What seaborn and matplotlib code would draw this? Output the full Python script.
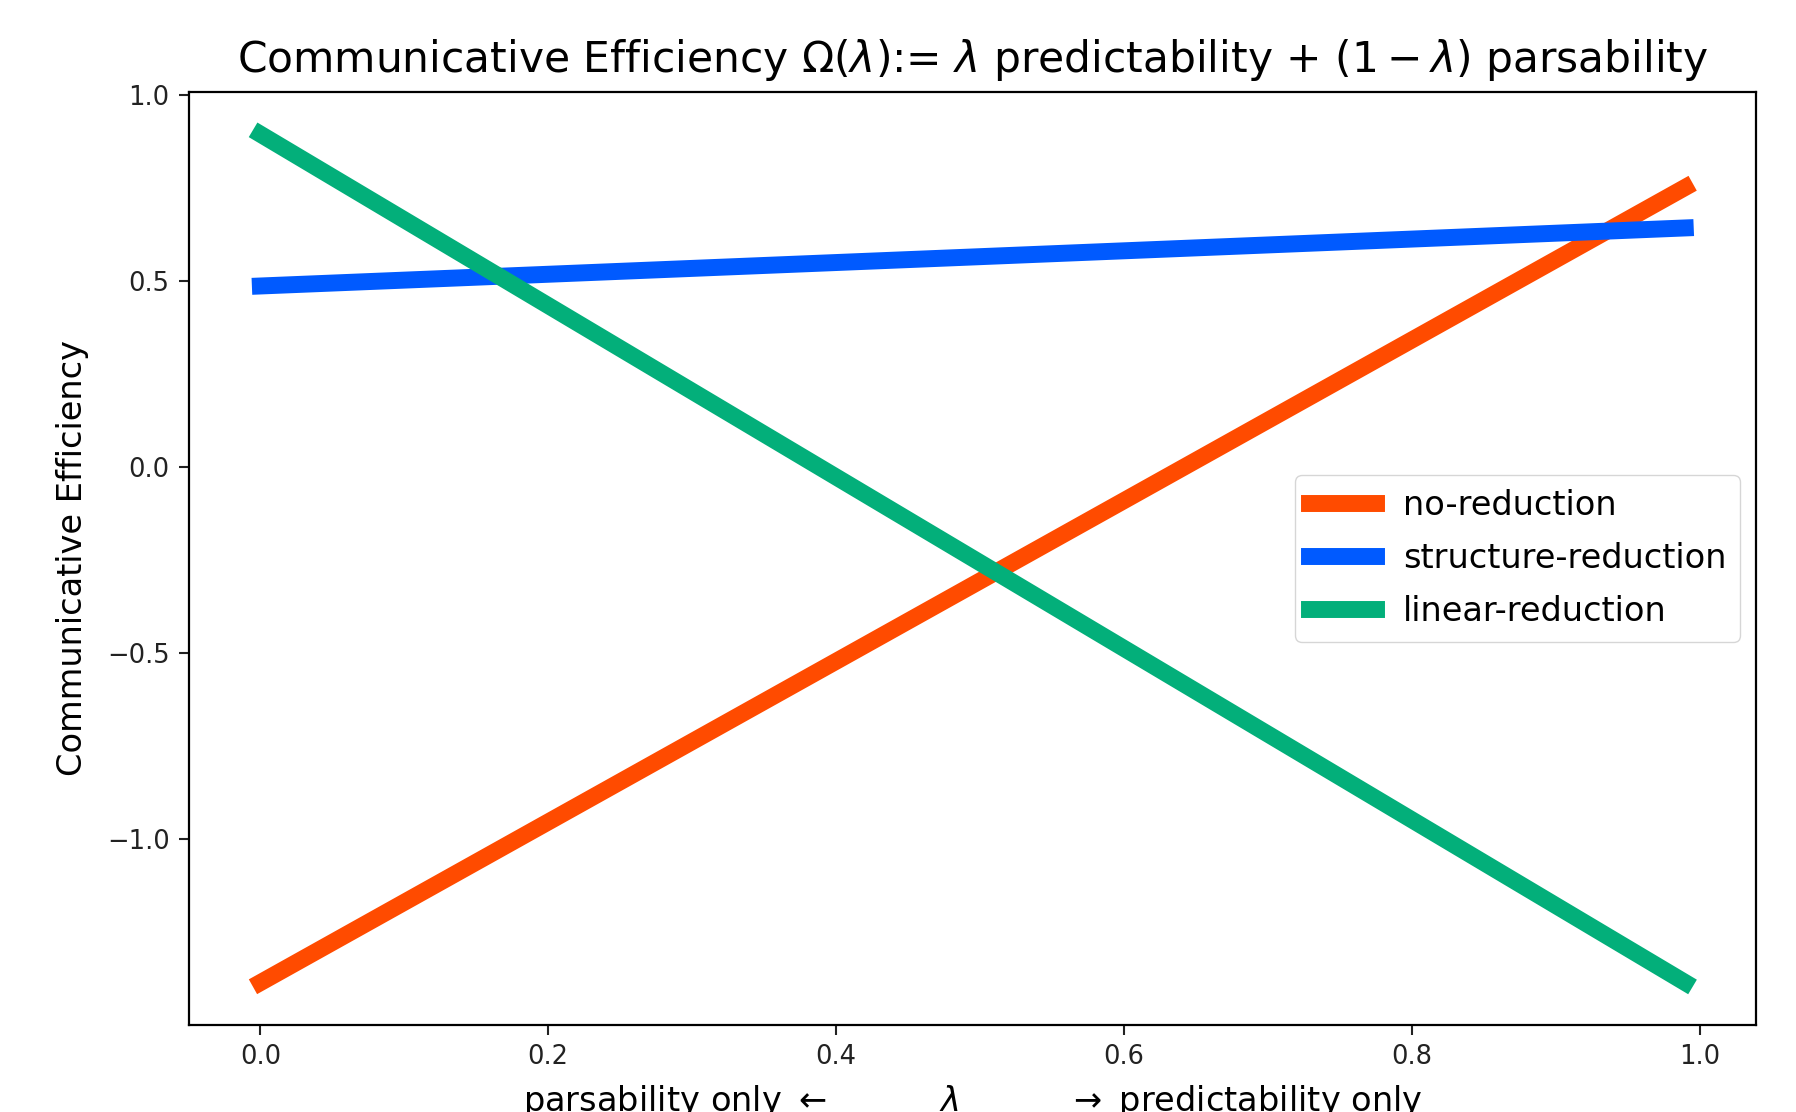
import matplotlib
matplotlib.use("Agg")
import matplotlib.pyplot as plt
import seaborn as sns
import pandas as pd

# data: endpoints of each line (lambda from 0 to 0.99)
lambdas = [0.0, 0.99]
series_names = ["no-reduction", "structure-reduction", "linear-reduction"]
no_reduction = [-1.385, 0.752]
structure_reduction = [0.487, 0.643]
linear_reduction = [0.895, -1.385]
colors = ["#FF4B00", "#005AFF", "#03AF7A"]

rows = []
for name, vals in zip(series_names, [no_reduction, structure_reduction, linear_reduction]):
    for l, v in zip(lambdas, vals):
        rows.append({"lambda": l, "value": v, "series": name})
df = pd.DataFrame(rows)

fig = plt.figure(figsize=(17.96, 11.12), dpi=100)
ax = fig.add_axes([0.1053, 0.0782, 0.978 - 0.1053, 0.9175 - 0.0782])

sns.lineplot(data=df, x="lambda", y="value", hue="series", hue_order=series_names,
             palette=colors, linewidth=12.2, ax=ax, legend=True)

ax.set_title(r"Communicative Efficiency $\Omega(\lambda)$:= $\lambda$ predictability + $(1-\lambda)$ parsability",
             fontsize=30.5, pad=14)
ax.set_ylabel("Communicative Efficiency", fontsize=24.2, labelpad=13)
ax.set_xlabel(r"parsability only $\leftarrow$          $\lambda$          $\rightarrow$ predictability only",
              fontsize=24.2, labelpad=9)
ax.tick_params(labelsize=18.5, length=7, width=1.5, pad=7, color="#222222", labelcolor="#222222")
for s in ax.spines.values():
    s.set_linewidth(1.6)

handles, labels = ax.get_legend_handles_labels()
leg = ax.legend(handles, labels, loc="center right", fontsize=24.2, handlelength=2.0,
                labelspacing=0.6)
for h in leg.legend_handles:
    h.set_linewidth(12.2)

fig.savefig("out.png", dpi=100)
